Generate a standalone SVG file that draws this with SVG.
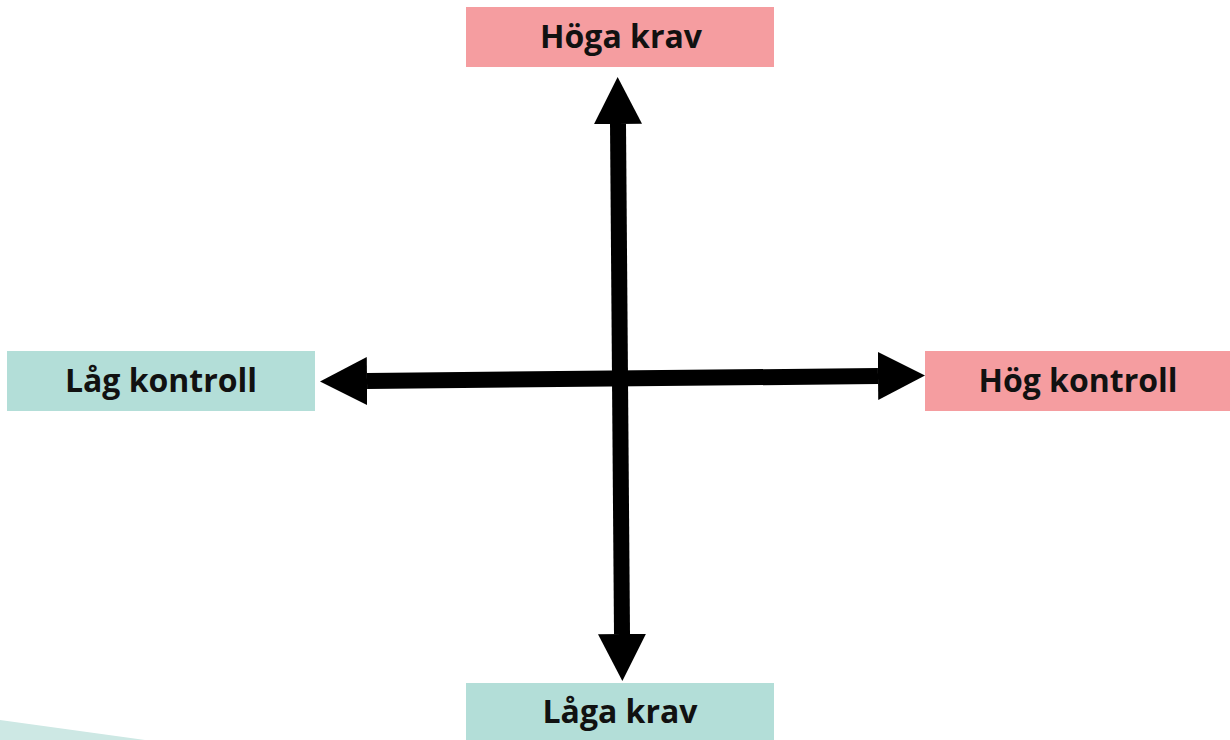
<svg xmlns="http://www.w3.org/2000/svg" width="1230" height="740" viewBox="0 0 1230 740">
  <style>
    .lbl { font-family: "Open Sans", "Liberation Sans", sans-serif; font-weight: bold; font-size: 32px; fill: #111; text-anchor: middle; }
    .pink { fill: #F59DA0; }
    .teal { fill: #B3DED8; }
    .ax { stroke: #000; stroke-width: 16; fill: none; }
  </style>
  <defs>
    <marker id="head" markerUnits="userSpaceOnUse" markerWidth="48" markerHeight="48" refX="0" refY="24" orient="auto-start-reverse" viewBox="0 0 48 48">
      <path d="M0,0 L47,24 L0,48 z" fill="#000"/>
    </marker>
  </defs>
  <rect width="1230" height="740" fill="#fff"/>
  <polygon points="0,720 145,740 0,740" fill="#CDE8E4"/>
  <g id="connectors">
    <line class="ax" x1="618" y1="124" x2="622" y2="634" marker-start="url(#head)" marker-end="url(#head)"/>
    <line class="ax" x1="367" y1="381" x2="878" y2="376" marker-start="url(#head)" marker-end="url(#head)"/>
  </g>
  <g id="hoga-krav">
    <rect class="pink" x="466" y="7" width="308" height="60"/>
    <text class="lbl" x="621" y="48">Höga krav</text>
  </g>
  <g id="lag-kontroll">
    <rect class="teal" x="7" y="351" width="308" height="60"/>
    <text class="lbl" x="161" y="392">Låg kontroll</text>
  </g>
  <g id="hog-kontroll">
    <rect class="pink" x="925" y="351" width="305" height="60"/>
    <text class="lbl" x="1078" y="392">Hög kontroll</text>
  </g>
  <g id="laga-krav">
    <rect class="teal" x="466" y="683" width="308" height="57"/>
    <text class="lbl" x="620" y="723">Låga krav</text>
  </g>
</svg>
